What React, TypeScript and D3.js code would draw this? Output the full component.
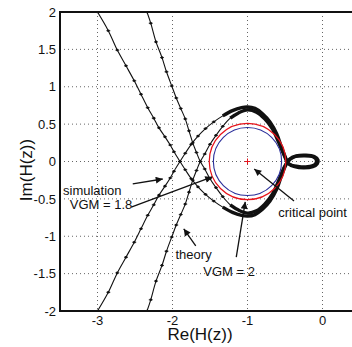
import * as d3 from "d3";

// simulation curve (outer branch, starts at Re = -3)
const simRe = [
  -3.0, -2.856, -2.736, -2.62, -2.51, -2.42, -2.33, -2.25, -2.18, -2.1, -2.03, -1.98, -1.9, -1.83, -1.75, -1.66, -1.56, -1.45,
  -1.33, -1.2, -1.08, -1.0, -0.9, -0.8, -0.7, -0.61, -0.55, -0.5, -0.44, -0.35, -0.22, -0.11, -0.06,
  -0.07, -0.13, -0.25, -0.37, -0.46, -0.5, -0.55, -0.61, -0.7, -0.8, -0.9, -1.0, -1.08, -1.2, -1.33,
  -1.45, -1.56, -1.66, -1.75, -1.83, -1.9, -1.98, -2.03, -2.1, -2.18, -2.25, -2.33, -2.42, -2.51, -2.62, -2.736, -2.856, -3.0,
];
const simIm = [
  2.0, 1.75, 1.49, 1.28, 1.08, 0.9, 0.72, 0.58, 0.45, 0.33, 0.22, 0.13, 0.0, -0.11, -0.23, -0.34, -0.44, -0.53,
  -0.61, -0.68, -0.72, -0.73, -0.71, -0.64, -0.53, -0.37, -0.2, -0.07, 0.03, 0.075, 0.085, 0.065, 0.02,
  -0.03, -0.07, -0.085, -0.07, -0.025, 0.07, 0.2, 0.37, 0.53, 0.64, 0.71, 0.73, 0.72, 0.68, 0.61,
  0.53, 0.44, 0.34, 0.23, 0.11, 0.0, -0.13, -0.22, -0.33, -0.45, -0.58, -0.72, -0.9, -1.08, -1.28, -1.49, -1.75, -2.0,
];

// theory curve (inner branch, starts at Re = -2.34)
const theoryRe = [
  -2.34, -2.29, -2.22, -2.14, -2.08, -2.01, -1.95, -1.89, -1.83, -1.78, -1.73, -1.68, -1.63, -1.57, -1.5, -1.42, -1.33,
  -1.23, -1.12, -1.0, -0.88, -0.77, -0.67, -0.59, -0.53, -0.47, -0.38, -0.24, -0.12, -0.08,
  -0.1, -0.2, -0.33, -0.45, -0.51, -0.59, -0.67, -0.77, -0.88, -1.0, -1.12, -1.23,
  -1.33, -1.42, -1.5, -1.57, -1.63, -1.68, -1.73, -1.78, -1.83, -1.89, -1.95, -2.01, -2.08, -2.14, -2.22, -2.29, -2.34,
];
const theoryIm = [
  2.0, 1.85, 1.6, 1.39, 1.2, 1.01, 0.85, 0.71, 0.57, 0.41, 0.25, 0.12, 0.0, -0.1, -0.23, -0.35, -0.47,
  -0.58, -0.65, -0.69, -0.66, -0.57, -0.44, -0.27, -0.12, -0.01, 0.06, 0.075, 0.06, 0.015,
  -0.04, -0.07, -0.065, -0.03, 0.08, 0.27, 0.44, 0.57, 0.66, 0.69, 0.65, 0.58,
  0.47, 0.35, 0.23, 0.1, 0.0, -0.12, -0.25, -0.41, -0.57, -0.71, -0.85, -1.01, -1.2, -1.39, -1.6, -1.85, -2.0,
];

const redRadius = 0.51;
const blueRadius = 0.455;
const criticalPoint = [-1, 0];

const xTicks = [-3, -2, -1, 0];
const yTicks = [-2, -1.5, -1, -0.5, 0, 0.5, 1, 1.5, 2];

// annotations: [text, Re, Im]
const labels: [string, number, number][] = [
  ["simulation", -3.46, -0.45],
  ["VGM = 1.8", -3.37, -0.64],
  ["theory", -1.96, -1.3],
  ["VGM = 2", -1.59, -1.53],
  ["critical point", -0.59, -0.74],
];
// arrows: [fromRe, fromIm, toRe, toIm]
const arrows: [number, number, number, number][] = [
  [-2.53, -0.3, -2.13, -0.234],
  [-2.55, -0.61, -1.47, -0.207],
  [-1.69, -1.13, -1.85, -0.9],
  [-1.15, -1.28, -1.03, -0.54],
  [-0.38, -0.53, -0.91, -0.1],
];

const W = 352;
const H = 347;
const FONT = "'Liberation Sans', Arial, sans-serif";

const x = d3.scaleLinear().domain([-3.5, 0.5]).range([60, 360]);
const y = d3.scaleLinear().domain([-2, 2]).range([311, 12]);

function Curve({ re, im, thickFrom }: { re: number[]; im: number[]; thickFrom: number }) {
  const pts = re.map((r, i) => [r, im[i]] as [number, number]);
  const line = d3
    .line<[number, number]>()
    .x((d) => x(d[0]))
    .y((d) => y(d[1]))
    .curve(d3.curveCatmullRom.alpha(0.5));
  const thick = pts.filter((p) => p[0] >= thickFrom);
  const thinPts = pts.filter((p) => p[0] < thickFrom);
  return (
    <g>
      <path d={line(pts) ?? ""} fill="none" stroke="#111" strokeWidth={1.1} />
      <path d={line(thick) ?? ""} fill="none" stroke="#111" strokeWidth={3.4} strokeLinejoin="round" />
      {thinPts.map((p, i) => (
        <g key={i} transform={`translate(${x(p[0])},${y(p[1])})`}>
          <circle r={1.3} fill="#111" />
          <line x1={-2} x2={2} stroke="#111" strokeWidth={0.8} />
        </g>
      ))}
    </g>
  );
}

export default function App() {
  const [cx, cy] = criticalPoint;
  return (
    <svg
      width={W}
      height={H}
      style={{ position: "fixed", left: 0, top: 0, background: "#fff" }}
      fontFamily={FONT}
    >
      <defs>
        <clipPath id="plot">
          <rect x={60} y={12} width={300} height={299} />
        </clipPath>
        <marker id="head" viewBox="0 0 10 10" refX={10} refY={5} markerWidth={10} markerHeight={7} orient="auto" markerUnits="userSpaceOnUse">
          <path d="M0,0 L10,5 L0,10 z" fill="#111" />
        </marker>
      </defs>
      <rect width={W} height={H} fill="#fff" />

      {/* grid */}
      {xTicks.map((t) => (
        <line key={"gx" + t} x1={x(t)} x2={x(t)} y1={y(2)} y2={y(-2)} stroke="#666" strokeWidth={1} strokeDasharray="1,3" />
      ))}
      {yTicks.slice(1, -1).map((t) => (
        <line key={"gy" + t} x1={x(-3.5)} x2={W} y1={y(t)} y2={y(t)} stroke="#666" strokeWidth={1} strokeDasharray="1,3" />
      ))}

      <g clipPath="url(#plot)">
        <Curve re={simRe} im={simIm} thickFrom={-1.4} />
        <Curve re={theoryRe} im={theoryIm} thickFrom={-1.28} />
        <ellipse cx={x(cx)} cy={y(cy)} rx={x(cx + redRadius) - x(cx)} ry={y(cy) - y(redRadius)} fill="none" stroke="#e8131b" strokeWidth={1.2} />
        <ellipse cx={x(cx)} cy={y(cy)} rx={x(cx + blueRadius) - x(cx)} ry={y(cy) - y(blueRadius)} fill="none" stroke="#2b2f9a" strokeWidth={1.1} />
        <path
          d={`M${x(cx) - 3},${y(cy)}h6M${x(cx)},${y(cy) - 3}v6`}
          stroke="#e8131b"
          strokeWidth={1}
        />
      </g>

      {/* axes box */}
      <line x1={x(-3.5)} x2={x(-3.5)} y1={y(2)} y2={y(-2)} stroke="#111" strokeWidth={2} />
      <line x1={x(-3.5) - 1} x2={W} y1={y(2)} y2={y(2)} stroke="#111" strokeWidth={2} />
      <line x1={x(-3.5) - 1} x2={W} y1={y(-2)} y2={y(-2)} stroke="#111" strokeWidth={2} />

      {/* tick labels */}
      {yTicks.map((t) => (
        <text key={"ty" + t} x={56} y={y(t)} dy="0.36em" textAnchor="end" fontSize={13} fill="#111">
          {t}
        </text>
      ))}
      {xTicks.map((t) => (
        <text key={"tx" + t} x={x(t)} y={325} textAnchor="middle" fontSize={13} fill="#111">
          {t}
        </text>
      ))}

      <text x={200} y={340} textAnchor="middle" fontSize={17} fill="#111">
        Re(H(z))
      </text>
      <text transform={`translate(32,170) rotate(-90)`} textAnchor="middle" fontSize={17} fill="#111">
        Im(H(z))
      </text>

      {/* annotations */}
      {arrows.map(([a, b, c, d], i) => (
        <line key={"ar" + i} x1={x(a)} y1={y(b)} x2={x(c)} y2={y(d)} stroke="#111" strokeWidth={1.3} markerEnd="url(#head)" />
      ))}
      {labels.map(([s, r, m]) => (
        <text key={s} x={x(r)} y={y(m)} fontSize={13} fill="#111">
          {s}
        </text>
      ))}
    </svg>
  );
}
